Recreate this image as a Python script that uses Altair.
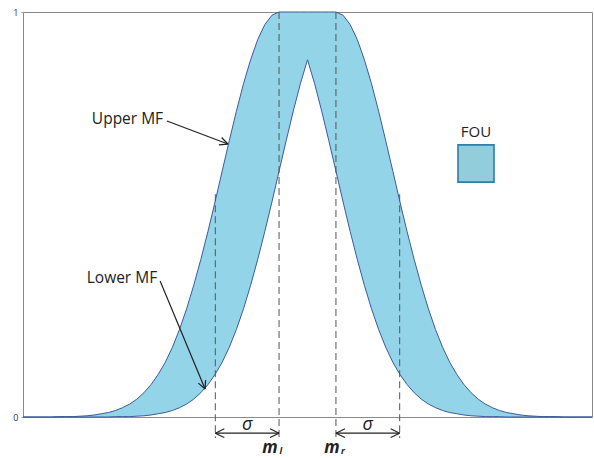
import math

import altair as alt
import pandas as pd

# Interval type-2 fuzzy set: Gaussian MF with uncertain mean m in [m_l, m_r]
x_grid = [i / 8 for i in range(81)]

upper_mf = [
    0, 0, 0, 0, 0, 0.001, 0.001, 0.001, 0.002, 0.003,
    0.005, 0.008, 0.011, 0.016, 0.023, 0.032, 0.044, 0.060, 0.080, 0.105,
    0.135, 0.172, 0.216, 0.267, 0.325, 0.389, 0.458, 0.531, 0.607, 0.682,
    0.755, 0.823, 0.882, 0.932, 0.969, 0.992, 1,
    1, 1, 1, 1, 1, 1, 1,
    1, 0.992, 0.969, 0.932, 0.882, 0.823, 0.755, 0.682, 0.607, 0.531,
    0.458, 0.389, 0.325, 0.267, 0.216, 0.172, 0.135, 0.105, 0.080, 0.060,
    0.044, 0.032, 0.023, 0.016, 0.011, 0.008, 0.005, 0.003, 0.002, 0.001,
    0.001, 0.001, 0, 0, 0, 0, 0,
]

lower_mf = [
    0, 0, 0, 0, 0, 0, 0, 0, 0, 0,
    0, 0, 0, 0.001, 0.001, 0.001, 0.002, 0.003, 0.005, 0.008,
    0.011, 0.016, 0.023, 0.032, 0.044, 0.060, 0.080, 0.105, 0.135, 0.172,
    0.216, 0.267, 0.325, 0.389, 0.458, 0.531, 0.607, 0.682, 0.755, 0.823,
    0.882,
    0.823, 0.755, 0.682, 0.607, 0.531, 0.458, 0.389, 0.325, 0.267, 0.216,
    0.172, 0.135, 0.105, 0.080, 0.060, 0.044, 0.032, 0.023, 0.016, 0.011,
    0.008, 0.005, 0.003, 0.002, 0.001, 0.001, 0.001, 0, 0, 0,
    0, 0, 0, 0, 0, 0, 0, 0, 0, 0,
]

m_left = 4.5
m_right = 5.5
sigma_span = 1.12
upper_at_sigma = 0.55

W, H = 569, 405
X_DOMAIN = [0, 10]
Y_DOMAIN = [0, 1]
PX_X = W / (X_DOMAIN[1] - X_DOMAIN[0])
PX_Y = H / (Y_DOMAIN[1] - Y_DOMAIN[0])

FILL = "#93d4e8"
EDGE = "#3c5a9a"
INK = "#222222"
FONT = "Open Sans"

xs = alt.Scale(domain=X_DOMAIN, nice=False, zero=False)
ys = alt.Scale(domain=Y_DOMAIN, nice=False, zero=False)

curves = pd.DataFrame({"x": x_grid, "upper": upper_mf, "lower": lower_mf})

base = alt.Chart(curves)
fou = base.mark_area(color=FILL, opacity=1).encode(
    x=alt.X("x:Q", scale=xs, axis=None),
    y=alt.Y(
        "upper:Q",
        scale=ys,
        axis=alt.Axis(
            values=[0, 1], format="d", title=None, grid=False, domain=False,
            tickSize=2, tickColor="#999999", labelFontSize=9,
            labelColor="#333333", labelPadding=3, labelFont=FONT,
        ),
    ),
    y2="lower:Q",
)
upper_line = base.mark_line(color=EDGE, strokeWidth=1).encode(
    x=alt.X("x:Q", scale=xs), y=alt.Y("upper:Q", scale=ys)
)
lower_line = base.mark_line(color=EDGE, strokeWidth=1).encode(
    x=alt.X("x:Q", scale=xs), y=alt.Y("lower:Q", scale=ys)
)

# vertical dashed guides at m_l - sigma, m_l, m_r, m_r + sigma
y_foot = -0.052
guides = pd.DataFrame({
    "x": [m_left - sigma_span, m_left, m_right, m_right + sigma_span],
    "y": [upper_at_sigma, 1, 1, upper_at_sigma],
    "y2": [y_foot] * 4,
})
guide_rules = alt.Chart(guides).mark_rule(
    color="#555555", strokeWidth=1, strokeDash=[7, 4]
).encode(
    x=alt.X("x:Q", scale=xs), y=alt.Y("y:Q", scale=ys), y2="y2:Q"
)


def arrow(x0, y0, x1, y1, heads=("end",), length=9.0, spread=26.0):
    """Segments for a shaft from (x0, y0) to (x1, y1) with open arrow heads."""
    segs = [(x0, y0, x1, y1)]
    tips = []
    if "end" in heads:
        tips.append((x1, y1, x0, y0))
    if "start" in heads:
        tips.append((x0, y0, x1, y1))
    for tx, ty, fx, fy in tips:
        ang = math.atan2((ty - fy) * PX_Y, (tx - fx) * PX_X)
        for s in (spread, -spread):
            a = ang + math.pi - math.radians(s)
            segs.append((tx, ty, tx + length * math.cos(a) / PX_X,
                         ty + length * math.sin(a) / PX_Y))
    return segs


y_sigma = -0.04
segments = []
segments += arrow(2.53, 0.731, 3.60, 0.674)
segments += arrow(2.41, 0.336, 3.20, 0.069)
segments += arrow(m_left - sigma_span, y_sigma, m_left, y_sigma, heads=("start", "end"), length=10)
segments += arrow(m_right, y_sigma, m_right + sigma_span, y_sigma, heads=("start", "end"), length=10)
seg_df = pd.DataFrame(segments, columns=["x", "y", "x2", "y2"])
arrows = alt.Chart(seg_df).mark_rule(color=INK, strokeWidth=1.2).encode(
    x=alt.X("x:Q", scale=xs), y=alt.Y("y:Q", scale=ys), x2="x2:Q", y2="y2:Q"
)

labels = pd.DataFrame({
    "x": [1.21, 1.12, 7.96],
    "y": [0.736, 0.343, 0.703],
    "text": ["Upper MF", "Lower MF", "FOU"],
    "align": ["left", "left", "center"],
})
label_left = alt.Chart(labels[labels["align"] == "left"]).mark_text(
    align="left", baseline="middle", font=FONT, fontSize=15.5, color=INK
).encode(x=alt.X("x:Q", scale=xs), y=alt.Y("y:Q", scale=ys), text="text:N")
label_center = alt.Chart(labels[labels["align"] == "center"]).mark_text(
    align="center", baseline="middle", font=FONT, fontSize=15, color=INK
).encode(x=alt.X("x:Q", scale=xs), y=alt.Y("y:Q", scale=ys), text="text:N")

# FOU legend swatch
swatch = alt.Chart(pd.DataFrame({"x": [7.645], "x2": [8.278], "y": [0.672], "y2": [0.580]})).mark_rect(
    fill="#92cddc", stroke="#2e7fa8", strokeWidth=1.6
).encode(x=alt.X("x:Q", scale=xs), x2="x2:Q", y=alt.Y("y:Q", scale=ys), y2="y2:Q")

sigma_text = alt.Chart(pd.DataFrame({
    "x": [m_left - sigma_span / 2, m_right + sigma_span / 2],
    "y": [-0.032, -0.032],
    "text": ["σ", "σ"],
})).mark_text(
    align="center", baseline="alphabetic", font=FONT, fontSize=18,
    fontStyle="italic", color=INK
).encode(x=alt.X("x:Q", scale=xs), y=alt.Y("y:Q", scale=ys), text="text:N")

m_text = alt.Chart(pd.DataFrame({
    "x": [m_left - 0.16, m_right - 0.07],
    "y": [-0.088, -0.088],
    "text": ["m", "m"],
})).mark_text(
    align="center", baseline="alphabetic", font=FONT, fontSize=17,
    fontStyle="italic", fontWeight="bold", color=INK
).encode(x=alt.X("x:Q", scale=xs), y=alt.Y("y:Q", scale=ys), text="text:N")

sub_text = alt.Chart(pd.DataFrame({
    "x": [m_left + 0.03, m_right + 0.12],
    "y": [-0.092, -0.092],
    "text": ["l", "r"],
})).mark_text(
    align="center", baseline="alphabetic", font=FONT, fontSize=9,
    fontStyle="italic", fontWeight="bold", color=INK
).encode(x=alt.X("x:Q", scale=xs), y=alt.Y("y:Q", scale=ys), text="text:N")

chart = alt.layer(
    fou, upper_line, lower_line, guide_rules, arrows, swatch,
    label_left, label_center, sigma_text, m_text, sub_text,
).properties(
    width=W,
    height=H,
    autosize=alt.AutoSizeParams(type="none"),
    padding={"left": 23, "top": 12, "right": 2, "bottom": 41},
    background="white",
).configure_view(
    stroke="#8a8a8a", strokeWidth=1
)

chart.save("out.html", embed_options={"renderer": "svg", "actions": False})
